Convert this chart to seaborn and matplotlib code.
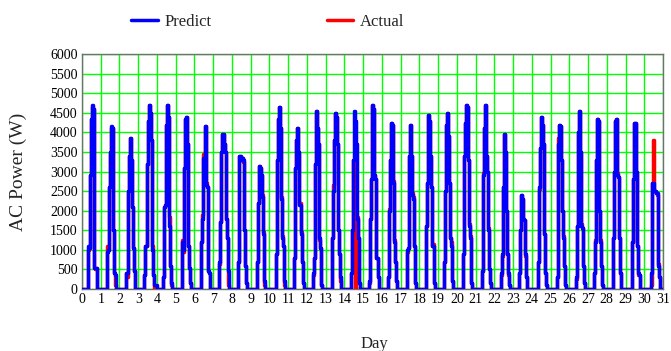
import numpy as np
import pandas as pd
import matplotlib
matplotlib.use("Agg")
import matplotlib.pyplot as plt
from matplotlib.lines import Line2D
import seaborn as sns

# AC power (W) for the 10 daylight samples of each day, zero at night
sample_start_hour = 8.0
sample_step_hours = 1.3

predict_days = [
    [1100, 1050, 2900, 4350, 4700, 4600, 540, 540, 540, 0],
    [950, 1000, 2600, 3500, 4150, 4100, 1500, 400, 350, 0],
    [400, 400, 2500, 3400, 3850, 3300, 2100, 1050, 450, 0],
    [350, 1100, 3200, 4300, 4700, 4500, 3800, 1000, 350, 100],
    [300, 2100, 2150, 4200, 4700, 4400, 1600, 600, 150, 0],
    [1200, 1000, 3100, 4350, 4400, 3700, 1100, 530, 150, 0],
    [1200, 1800, 3350, 3300, 4150, 2650, 2600, 450, 400, 0],
    [700, 1700, 3500, 3950, 3700, 3500, 1800, 1300, 450, 0],
    [700, 3400, 3400, 3300, 3350, 3300, 1500, 600, 150, 0],
    [700, 2200, 3150, 3100, 2900, 2350, 1400, 200, 0, 0],
    [900, 3300, 4350, 4650, 4100, 2300, 1300, 1100, 200, 0],
    [800, 3100, 3800, 4100, 3500, 2150, 1400, 700, 150, 0],
    [400, 800, 3200, 4550, 4100, 3700, 1300, 1050, 100, 0],
    [1300, 2500, 3800, 4500, 4400, 3700, 1500, 900, 300, 0],
    [400, 1500, 3300, 4550, 4300, 3700, 1800, 1300, 150, 0],
    [200, 1800, 2800, 4700, 4600, 2900, 2800, 800, 300, 0],
    [300, 2000, 3300, 4250, 4200, 2700, 1200, 700, 200, 0],
    [1000, 1050, 3400, 4200, 3400, 2400, 2300, 1100, 150, 0],
    [1600, 2700, 4450, 4300, 3400, 2600, 1100, 1100, 150, 0],
    [700, 2500, 4200, 4500, 3900, 2700, 1300, 1100, 200, 0],
    [900, 3400, 4250, 4700, 4650, 3300, 1600, 1300, 150, 0],
    [450, 2900, 4100, 4700, 3400, 3000, 1500, 500, 150, 0],
    [400, 900, 2600, 3950, 3500, 2000, 900, 400, 100, 0],
    [400, 1500, 2400, 2300, 1800, 1750, 900, 300, 0, 0],
    [700, 2600, 3600, 4400, 4200, 3700, 1400, 400, 100, 0],
    [300, 3700, 4200, 4150, 3300, 2000, 1300, 600, 100, 0],
    [300, 1600, 4000, 4550, 3500, 1600, 1550, 600, 150, 0],
    [400, 1200, 3300, 4350, 4300, 2000, 1200, 600, 100, 0],
    [1300, 3000, 4300, 4350, 2900, 2850, 1300, 400, 0, 0],
    [1200, 2800, 4250, 4250, 3000, 1100, 400, 350, 0, 0],
    [400, 2700, 2700, 2500, 2500, 2450, 2450, 600, 300, 0],
]

actual_days = [
    [1000, 1050, 2900, 4350, 4650, 4600, 540, 500, 540, 0],
    [1100, 1000, 2600, 3500, 4100, 4100, 1500, 400, 100, 0],
    [400, 300, 2500, 3400, 3850, 3300, 2100, 1050, 450, 0],
    [350, 1100, 3200, 4300, 4700, 4500, 3800, 1100, 350, 0],
    [300, 2100, 2150, 4200, 4700, 4400, 1850, 600, 100, 0],
    [1250, 950, 3100, 4350, 4400, 3700, 1100, 530, 150, 0],
    [1200, 1900, 3450, 3300, 4150, 2700, 2600, 450, 400, 0],
    [650, 1700, 3500, 3950, 3700, 3500, 1800, 1300, 100, 0],
    [700, 3400, 3400, 3300, 3350, 3250, 1500, 600, 150, 0],
    [700, 2200, 3150, 3100, 2900, 2400, 1450, 100, 0, 0],
    [900, 3300, 4350, 4650, 4100, 2350, 1350, 1100, 100, 0],
    [800, 3100, 3800, 4100, 3500, 2200, 1450, 700, 150, 0],
    [350, 800, 3200, 4550, 4100, 3700, 1250, 1050, 100, 0],
    [1300, 2650, 3800, 4500, 4400, 3700, 1500, 900, 200, 0],
    [400, 1500, 3300, 1200, 0, 800, 1850, 1300, 150, 0],
    [150, 1800, 2800, 4700, 4600, 2900, 2800, 800, 300, 0],
    [300, 2050, 3300, 4250, 4200, 2750, 1250, 700, 200, 0],
    [950, 1050, 3400, 4200, 3400, 2450, 2350, 1100, 150, 0],
    [1600, 2700, 4450, 4300, 3400, 2600, 1100, 1150, 150, 0],
    [700, 2500, 4200, 4500, 3900, 2700, 1300, 1200, 200, 0],
    [900, 3400, 4250, 4700, 4650, 3300, 1650, 1350, 150, 0],
    [450, 2950, 4100, 4700, 3400, 3000, 1550, 500, 150, 0],
    [350, 850, 2600, 3950, 3500, 2000, 900, 350, 100, 0],
    [400, 1500, 2400, 2300, 1800, 1750, 850, 300, 0, 0],
    [700, 2550, 3600, 4400, 4200, 3700, 1400, 400, 100, 0],
    [300, 3850, 4200, 4150, 3300, 2000, 1350, 600, 100, 0],
    [250, 1600, 4000, 4550, 3500, 1650, 1550, 600, 150, 0],
    [400, 1250, 3300, 4350, 4300, 2000, 1250, 600, 100, 0],
    [1300, 3000, 4300, 4350, 2950, 2850, 1300, 400, 0, 0],
    [1200, 2800, 4250, 4250, 3000, 1100, 350, 350, 0, 0],
    [100, 2700, 3800, 2500, 2500, 2450, 2400, 650, 300, 0],
]

x_ticks = list(range(0, 32))
y_ticks = list(range(0, 6001, 500))

# one long series: midnight zero, daylight samples, then zero again
rows = []
for d in range(len(predict_days)):
    rows.append((d, 0, 0))
    for i in range(len(predict_days[d])):
        t = d + (sample_start_hour + i * sample_step_hours) / 24
        rows.append((t, predict_days[d][i], actual_days[d][i]))
rows.append((31, 0, 0))
df = pd.DataFrame(rows, columns=["day", "predict", "actual"])

sns.set_theme(style="white")
plt.rcParams["font.family"] = ["Liberation Serif", "DejaVu Serif"]

fig = plt.figure(figsize=(6.71, 3.51), dpi=100)
ax = fig.add_axes([0.1222, 0.1766, 0.8659, 0.6695])

sns.lineplot(data=df, x="day", y="actual", ax=ax, color="#ff0000", lw=2.5,
             drawstyle="steps-post", estimator=None, sort=False, zorder=3)
sns.lineplot(data=df, x="day", y="predict", ax=ax, color="#0000ff", lw=2.5,
             drawstyle="steps-post", estimator=None, sort=False, zorder=4)

ax.set_xlim(0, 31)
ax.set_ylim(0, 6000)
ax.set_xticks(x_ticks)
ax.set_yticks(y_ticks)
ax.grid(True, color="#00ff00", lw=1.0)
ax.set_axisbelow(True)
ax.tick_params(length=0, labelsize=10, colors="black", pad=3)
for s in ax.spines.values():
    s.set_color("#707070")
    s.set_linewidth(1.0)

ax.set_xlabel("Day", fontsize=12)
ax.set_ylabel("AC Power (W)", fontsize=14)
ax.xaxis.set_label_coords(0.504, -0.20)
ax.yaxis.set_label_coords(-0.095, 0.5)

handles = [Line2D([], [], color="#0000ff", lw=2.5),
           Line2D([], [], color="#ff0000", lw=2.5)]
fig.legend(handles, ["Predict", "Actual"], loc="center", ncol=2,
           bbox_to_anchor=(0.399, 0.937), frameon=False, fontsize=12,
           handlelength=1.6, handletextpad=0.4, columnspacing=6.9)

plt.savefig("out.png", dpi=100)
